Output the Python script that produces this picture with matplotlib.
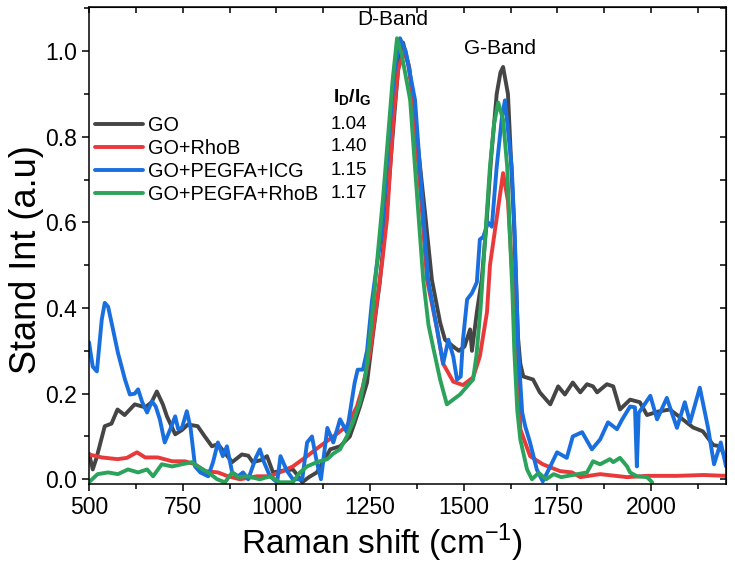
import matplotlib
matplotlib.use("Agg")
import matplotlib.pyplot as plt
from matplotlib.ticker import MultipleLocator

plt.rcParams['font.family'] = ['Liberation Sans', 'DejaVu Sans']
plt.rcParams['mathtext.fontset'] = 'custom'
plt.rcParams['mathtext.rm'] = 'Liberation Sans'
plt.rcParams['mathtext.bf'] = 'Liberation Sans:bold'

series_names = ["GO", "GO+RhoB", "GO+PEGFA+ICG", "GO+PEGFA+RhoB"]
ratios = ["1.04", "1.40", "1.15", "1.17"]
colors = ["#454545", "#e8393b", "#1a6fdf", "#2ba35a"]

go_x = [500, 510, 520, 542, 560, 576, 595, 622, 650, 667, 681, 697, 708, 730, 748, 764, 790, 809, 828, 844,
        864, 882, 908, 925, 937, 960, 975, 991, 1016, 1044, 1056, 1069, 1087, 1108, 1144, 1170, 1196, 1208,
        1223, 1242, 1258, 1276, 1294, 1310, 1325, 1338, 1355, 1375, 1397, 1415, 1437, 1450, 1472, 1487,
        1502, 1517, 1522, 1535, 1548, 1561, 1573, 1588, 1598, 1605, 1618, 1626, 1634, 1640, 1645, 1651,
        1659, 1685, 1703, 1731, 1752, 1770, 1791, 1811, 1829, 1845, 1856, 1882, 1899, 1917, 1944, 1970,
        1989, 2018, 2050, 2077, 2112, 2138, 2166, 2184, 2200]
go_y = [0.060, 0.023, 0.050, 0.124, 0.130, 0.163, 0.150, 0.175, 0.168, 0.180, 0.205, 0.175, 0.147, 0.105,
        0.115, 0.128, 0.124, 0.100, 0.077, 0.082, 0.060, 0.040, 0.058, 0.055, 0.040, 0.045, 0.054, 0.016,
        0.020, 0.023, 0.010, -0.007, 0.005, 0.016, 0.070, 0.077, 0.100, 0.130, 0.170, 0.226, 0.340, 0.460,
        0.620, 0.800, 0.960, 1.020, 0.960, 0.800, 0.620, 0.466, 0.366, 0.326, 0.310, 0.300, 0.310, 0.350,
        0.300, 0.390, 0.466, 0.600, 0.750, 0.900, 0.950, 0.963, 0.900, 0.750, 0.600, 0.450, 0.330, 0.270,
        0.240, 0.233, 0.203, 0.175, 0.217, 0.198, 0.226, 0.203, 0.222, 0.217, 0.203, 0.222, 0.217, 0.163,
        0.186, 0.180, 0.150, 0.158, 0.163, 0.145, 0.121, 0.112, 0.080, 0.077, 0.047]

rhob_x = [500, 534, 576, 601, 628, 650, 684, 722, 756, 783, 810, 844, 871, 903, 948, 983, 1009, 1044, 1082,
          1116, 1152, 1188, 1215, 1231, 1250, 1268, 1282, 1295, 1312, 1325, 1340, 1352, 1365, 1389, 1402,
          1429, 1445, 1472, 1498, 1525, 1543, 1562, 1570, 1588, 1605, 1618, 1628, 1636, 1644, 1651, 1677,
          1711, 1757, 1789, 1811, 1864, 1936, 1989, 2069, 2140, 2200]
rhob_y = [0.058, 0.051, 0.047, 0.050, 0.063, 0.051, 0.051, 0.042, 0.042, 0.035, 0.019, 0.016, 0.007, 0.000,
          0.007, 0.007, 0.016, 0.030, 0.054, 0.077, 0.100, 0.124, 0.170, 0.217, 0.296, 0.412, 0.505, 0.606,
          0.840, 0.956, 1.000, 0.970, 0.886, 0.620, 0.466, 0.350, 0.270, 0.228, 0.220, 0.238, 0.287, 0.390,
          0.500, 0.610, 0.715, 0.650, 0.500, 0.430, 0.300, 0.117, 0.054, 0.035, 0.019, 0.016, 0.005, 0.012,
          0.005, 0.008, 0.008, 0.010, 0.008]

icg_x = [500, 510, 521, 534, 542, 551, 564, 577, 596, 609, 622, 631, 642, 655, 668, 678, 689, 702, 717, 730,
         738, 748, 761, 771, 783, 797, 818, 831, 844, 857, 868, 882, 898, 911, 925, 945, 956, 967, 983, 1002,
         1011, 1028, 1044, 1069, 1082, 1095, 1108, 1119, 1136, 1152, 1170, 1188, 1209, 1217, 1231, 1242,
         1255, 1268, 1282, 1300, 1315, 1330, 1345, 1370, 1392, 1405, 1429, 1445, 1459, 1472, 1482, 1492,
         1498, 1509, 1522, 1535, 1543, 1552, 1565, 1575, 1588, 1602, 1610, 1628, 1636, 1641, 1645, 1656,
         1664, 1677, 1695, 1711, 1731, 1749, 1775, 1791, 1816, 1842, 1864, 1885, 1909, 1923, 1944, 1957,
         1962, 1967, 1998, 2016, 2042, 2069, 2090, 2104, 2130, 2152, 2168, 2186, 2200]
icg_y = [0.320, 0.263, 0.252, 0.373, 0.412, 0.403, 0.350, 0.296, 0.233, 0.198, 0.200, 0.210, 0.180, 0.156,
         0.182, 0.170, 0.140, 0.086, 0.117, 0.147, 0.117, 0.120, 0.159, 0.120, 0.030, 0.016, 0.007, 0.040,
         0.086, 0.054, 0.077, 0.016, 0.007, 0.016, 0.000, 0.050, 0.070, 0.040, 0.007, -0.007, 0.054, 0.020,
         0.000, 0.000, 0.086, 0.100, 0.040, 0.000, 0.120, 0.086, 0.140, 0.110, 0.226, 0.256, 0.256, 0.300,
         0.415, 0.500, 0.580, 0.800, 0.950, 1.030, 1.000, 0.886, 0.620, 0.466, 0.350, 0.270, 0.326, 0.287,
         0.233, 0.240, 0.326, 0.420, 0.435, 0.460, 0.560, 0.566, 0.600, 0.590, 0.730, 0.846, 0.885, 0.730,
         0.575, 0.435, 0.310, 0.156, 0.124, 0.086, 0.023, -0.005, 0.030, 0.063, 0.050, 0.100, 0.110, 0.070,
         0.093, 0.133, 0.117, 0.140, 0.170, 0.168, 0.030, 0.155, 0.195, 0.140, 0.190, 0.120, 0.180, 0.133,
         0.214, 0.120, 0.035, 0.086, 0.030]

peg_x = [502, 523, 551, 577, 604, 631, 655, 671, 694, 722, 748, 775, 790, 818, 842, 863, 882, 898, 921, 956,
         983, 1009, 1044, 1063, 1082, 1108, 1136, 1152, 1170, 1188, 1204, 1223, 1239, 1250, 1263, 1271,
         1285, 1298, 1310, 1322, 1335, 1357, 1379, 1392, 1406, 1418, 1437, 1455, 1490, 1525, 1534, 1545,
         1558, 1570, 1581, 1592, 1605, 1616, 1623, 1630, 1635, 1643, 1651, 1669, 1682, 1700, 1720, 1740,
         1760, 1791, 1829, 1845, 1864, 1890, 1899, 1917, 1936, 1944, 1962, 1989, 2003]
peg_y = [-0.005, 0.012, 0.016, 0.012, 0.023, 0.016, 0.023, 0.007, 0.035, 0.030, 0.035, 0.040, 0.030, 0.016,
         0.000, -0.007, 0.016, 0.005, 0.007, 0.000, 0.007, -0.007, -0.007, 0.016, 0.030, 0.040, 0.047, 0.060,
         0.070, 0.100, 0.132, 0.180, 0.250, 0.333, 0.450, 0.530, 0.660, 0.800, 0.930, 1.030, 0.990, 0.886,
         0.620, 0.466, 0.360, 0.310, 0.233, 0.175, 0.198, 0.233, 0.290, 0.400, 0.575, 0.730, 0.830, 0.880,
         0.840, 0.730, 0.575, 0.435, 0.300, 0.160, 0.093, 0.023, 0.000, 0.015, 0.000, 0.012, 0.005, 0.010,
         0.016, 0.042, 0.035, 0.047, 0.040, 0.050, 0.030, 0.016, 0.007, 0.005, -0.007]

xs = [go_x, rhob_x, icg_x, peg_x]
ys = [go_y, rhob_y, icg_y, peg_y]

fig = plt.figure(figsize=(7.35, 5.70), dpi=100)
ax = fig.add_axes([0.1211, 0.1509, 0.8667, 0.8368])

for x, y, c, n in zip(xs, ys, colors, series_names):
    ax.plot(x, y, color=c, lw=2.8, label=n, solid_joinstyle='round', solid_capstyle='round')

ax.set_xlim(500, 2200)
ax.set_ylim(-0.011, 1.103)
ax.xaxis.set_major_locator(MultipleLocator(250))
ax.xaxis.set_minor_locator(MultipleLocator(125))
ax.yaxis.set_major_locator(MultipleLocator(0.2))
ax.yaxis.set_minor_locator(MultipleLocator(0.1))
ax.yaxis.set_major_formatter(matplotlib.ticker.FormatStrFormatter('%.1f'))
ax.tick_params(which='both', direction='out', width=1.1, labelsize=16.5, top=False, right=False)
ax.tick_params(which='major', length=5)
ax.tick_params(which='minor', length=3.5)
for s in ax.spines.values():
    s.set_linewidth(1.1)

secx = ax.secondary_xaxis('top')
secx.xaxis.set_major_locator(MultipleLocator(250))
secx.xaxis.set_minor_locator(MultipleLocator(125))
secx.tick_params(which='both', direction='in', labeltop=False, width=1.1, length=4.5)
secy = ax.secondary_yaxis('right')
secy.yaxis.set_major_locator(MultipleLocator(0.2))
secy.yaxis.set_minor_locator(MultipleLocator(0.1))
secy.tick_params(which='both', direction='in', labelright=False, width=1.1, length=4.5)

ax.set_xlabel('Raman shift (cm$^{-1}$)', fontsize=24)
ax.set_ylabel('Stand Int (a.u)', fontsize=26)
ax.xaxis.set_label_coords(0.46, -0.08)
ax.yaxis.set_label_coords(-0.07, 0.47)

leg = ax.legend(loc='upper left', bbox_to_anchor=(0.0094, 0.772), frameon=False, fontsize=14.3,
                handlelength=2.4, handletextpad=0.25, labelspacing=0.2, borderaxespad=0, borderpad=0)

ax.text(0.414, 0.811, r'$\mathbf{I_D/I_G}$', transform=ax.transAxes, fontsize=14,
        ha='center', va='center')
ratio_y = [0.753, 0.707, 0.658, 0.610]
for r, yy in zip(ratios, ratio_y):
    ax.text(0.4364, yy, r, transform=ax.transAxes, fontsize=13.5, ha='right', va='center')

ax.text(1311, 1.073, 'D-Band', fontsize=15, ha='center', va='center')
ax.text(1597, 1.006, 'G-Band', fontsize=15, ha='center', va='center')

fig.savefig('out.png', dpi=100)
